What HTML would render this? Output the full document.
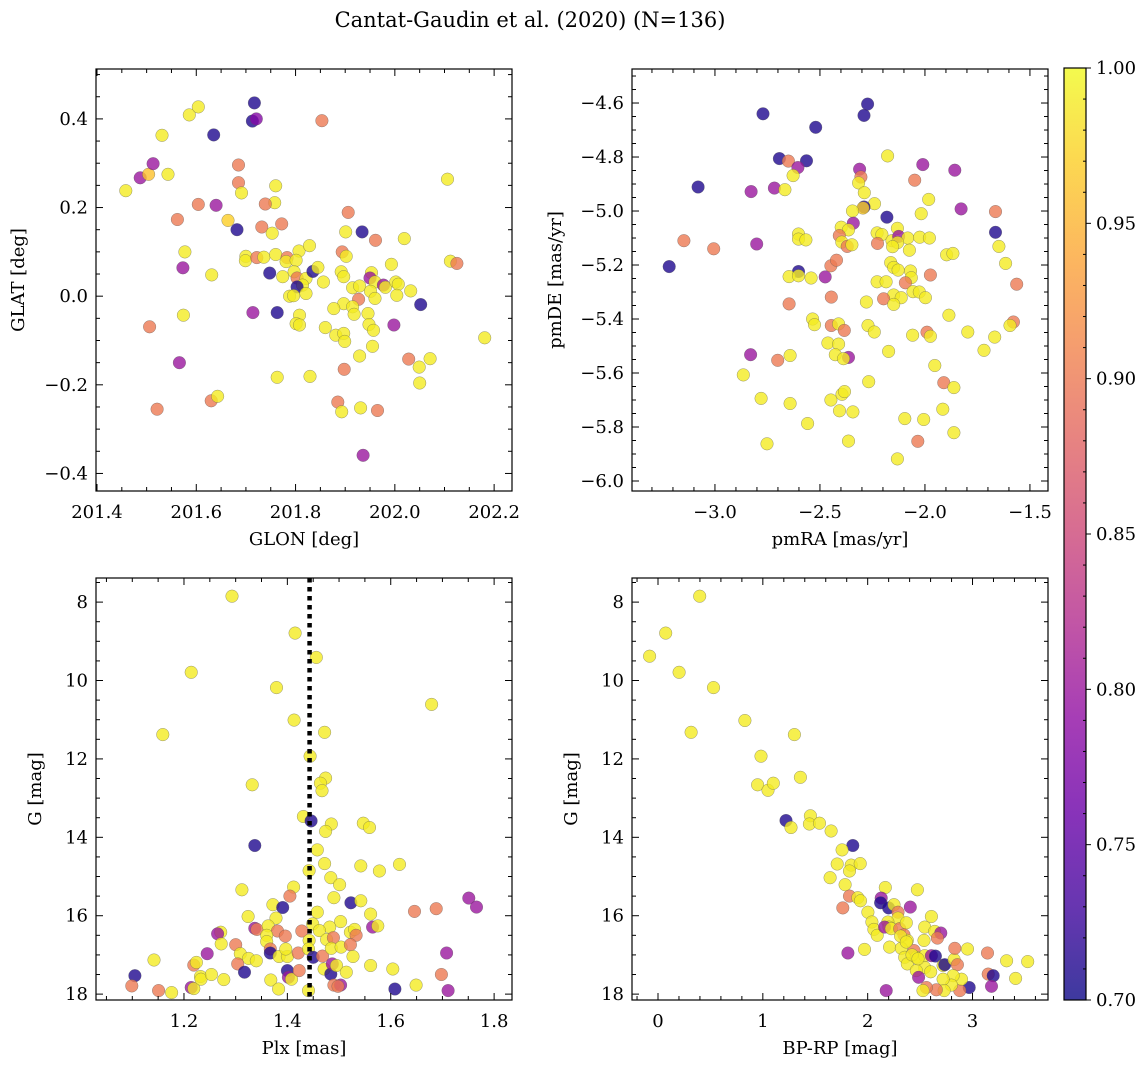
<!DOCTYPE html>
<html><head><meta charset="utf-8">
<style>
html,body{margin:0;padding:0;background:#fff;}
svg{display:block;font-family:"DejaVu Serif","Liberation Serif",serif;}
</style></head>
<body>
<svg id="fig" width="1148" height="1068" viewBox="0 0 1148 1068" xmlns="http://www.w3.org/2000/svg">
<rect width="1148" height="1068" fill="#fff"/>
<text x="530" y="27" font-size="21" text-anchor="middle">Cantat-Gaudin et al. (2020) (N=136)</text>
</svg>
<script>
// Panel 1: GLON / GLAT
const p1Glon=[201.458,201.487,201.504,201.513,201.543,201.531,201.586,201.604,201.635,201.717,201.713,201.721,201.853,201.685,201.685,201.691,201.760,201.758,201.739,201.604,201.640,201.562,201.664,201.682,201.732,201.772,201.753,201.577,201.573,201.631,201.700,201.699,201.722,201.736,201.760,201.783,201.781,201.807,201.828,201.801,201.748,201.774,201.797,201.803,201.821,201.814,201.835,201.845,201.856,201.803,201.788,201.796,201.821,201.901,201.934,201.906,201.961,201.894,201.902,202.019,201.993,201.892,201.897,201.953,201.950,201.960,201.977,201.981,202.002,202.007,201.915,201.929,201.951,202.004,202.032,201.960,201.927,201.897,201.877,201.915,201.918,201.946,202.052,202.112,202.125,202.106,202.181,201.998,201.948,201.957,201.808,201.801,201.808,201.860,201.881,201.897,201.899,201.955,201.929,201.714,201.763,201.574,201.506,201.566,202.028,202.071,202.049,202.050,201.898,201.763,201.829,201.630,201.643,201.521,201.885,201.893,201.931,201.965,201.936];
const p1Glat=[0.238,0.267,0.275,0.299,0.275,0.363,0.409,0.427,0.364,0.436,0.395,0.400,0.396,0.296,0.256,0.233,0.249,0.211,0.208,0.207,0.205,0.173,0.171,0.150,0.156,0.163,0.142,0.100,0.064,0.048,0.090,0.080,0.087,0.088,0.094,0.087,0.078,0.102,0.114,0.081,0.052,0.044,0.055,0.041,0.040,0.025,0.056,0.065,0.032,0.021,0.000,0.001,0.006,0.145,0.145,0.189,0.126,0.100,0.090,0.130,0.072,0.055,0.044,0.053,0.041,0.032,0.025,0.020,0.032,0.027,0.019,0.023,0.011,0.002,0.012,-0.005,-0.007,-0.017,-0.028,-0.024,-0.041,-0.039,-0.019,0.079,0.074,0.264,-0.094,-0.065,-0.064,-0.077,-0.043,-0.062,-0.065,-0.071,-0.088,-0.084,-0.102,-0.113,-0.135,-0.037,-0.037,-0.043,-0.069,-0.150,-0.142,-0.141,-0.160,-0.196,-0.165,-0.183,-0.181,-0.236,-0.226,-0.255,-0.239,-0.261,-0.252,-0.258,-0.359];
const p1Prob=[0.99,0.80,0.96,0.80,0.99,0.99,0.99,0.99,0.71,0.71,0.71,0.78,0.90,0.90,0.90,0.99,0.99,0.99,0.90,0.90,0.80,0.90,0.97,0.71,0.90,0.90,0.99,0.99,0.80,0.99,0.99,0.99,0.90,0.99,0.99,0.90,0.99,0.99,0.99,0.99,0.71,0.99,0.99,0.90,0.99,0.99,0.71,0.99,0.99,0.71,0.99,0.99,0.99,0.99,0.71,0.90,0.90,0.90,0.99,0.99,0.99,0.99,0.99,0.99,0.80,0.99,0.80,0.99,0.99,0.99,0.99,0.99,0.99,0.99,0.99,0.99,0.90,0.99,0.99,0.99,0.99,0.99,0.71,0.99,0.90,0.99,0.99,0.80,0.99,0.99,0.99,0.99,0.99,0.99,0.99,0.99,0.99,0.99,0.99,0.80,0.71,0.99,0.90,0.80,0.90,0.99,0.99,0.99,0.90,0.99,0.99,0.90,0.99,0.90,0.90,0.99,0.99,0.90,0.80];
// Panel 2: pmRA / pmDE
const p2Pmra=[-3.218,-3.080,-3.148,-3.006,-2.771,-2.520,-2.273,-2.290,-2.693,-2.564,-2.650,-2.605,-2.628,-2.828,-2.717,-2.667,-2.801,-2.602,-2.602,-2.567,-2.602,-2.647,-2.602,-2.542,-2.475,-2.647,-2.448,-2.421,-2.446,-2.311,-2.305,-2.316,-2.289,-2.240,-2.290,-2.295,-2.345,-2.341,-2.399,-2.364,-2.408,-2.396,-2.370,-2.348,-2.178,-2.010,-1.858,-2.049,-1.982,-2.018,-1.828,-2.181,-2.131,-2.228,-2.205,-2.226,-2.157,-2.125,-2.082,-2.130,-2.154,-2.074,-2.025,-1.979,-1.897,-1.867,-1.664,-1.664,-1.648,-1.616,-1.563,-2.163,-2.149,-2.128,-2.069,-2.065,-1.974,-2.093,-2.228,-2.185,-2.057,-2.027,-1.998,-2.149,-2.113,-2.197,-2.149,-2.279,-1.886,-2.535,-2.526,-2.446,-2.411,-2.384,-2.271,-2.241,-2.059,-1.990,-1.974,-1.796,-1.579,-1.595,-1.668,-1.719,-2.462,-2.411,-2.427,-2.364,-2.388,-2.642,-2.830,-2.701,-2.173,-1.953,-2.865,-2.268,-1.910,-1.862,-2.780,-2.642,-2.448,-2.395,-2.383,-2.407,-2.343,-1.915,-2.559,-2.096,-2.006,-1.862,-2.034,-2.752,-2.364,-2.131];
const p2Pmde=[-5.206,-4.911,-5.110,-5.140,-4.640,-4.690,-4.604,-4.646,-4.806,-4.814,-4.815,-4.839,-4.869,-4.928,-4.915,-4.921,-5.122,-5.085,-5.104,-5.107,-5.224,-5.243,-5.240,-5.248,-5.244,-5.344,-5.203,-5.182,-5.319,-4.845,-4.874,-4.896,-4.932,-4.973,-4.985,-4.989,-5.000,-5.045,-5.060,-5.070,-5.091,-5.115,-5.131,-5.125,-4.796,-4.828,-4.849,-4.886,-4.957,-5.010,-4.992,-5.023,-5.064,-5.081,-5.087,-5.120,-5.110,-5.094,-5.100,-5.117,-5.132,-5.145,-5.097,-5.100,-5.162,-5.157,-5.002,-5.079,-5.131,-5.194,-5.271,-5.191,-5.209,-5.219,-5.222,-5.247,-5.237,-5.266,-5.262,-5.262,-5.299,-5.300,-5.321,-5.311,-5.321,-5.325,-5.346,-5.337,-5.386,-5.400,-5.421,-5.424,-5.418,-5.442,-5.424,-5.448,-5.460,-5.449,-5.464,-5.448,-5.411,-5.424,-5.467,-5.516,-5.489,-5.493,-5.532,-5.542,-5.547,-5.535,-5.532,-5.553,-5.520,-5.572,-5.607,-5.632,-5.636,-5.654,-5.694,-5.713,-5.700,-5.679,-5.669,-5.740,-5.744,-5.734,-5.787,-5.769,-5.772,-5.821,-5.853,-5.862,-5.852,-5.918];
const p2Prob=[0.71,0.71,0.90,0.90,0.71,0.71,0.71,0.71,0.71,0.71,0.90,0.80,0.99,0.80,0.80,0.99,0.80,0.99,0.99,0.99,0.71,0.99,0.99,0.99,0.80,0.90,0.90,0.90,0.90,0.80,0.90,0.99,0.99,0.99,0.71,0.97,0.99,0.80,0.99,0.99,0.90,0.99,0.90,0.99,0.99,0.80,0.80,0.90,0.99,0.99,0.80,0.71,0.99,0.99,0.99,0.90,0.99,0.80,0.99,0.99,0.99,0.99,0.99,0.99,0.99,0.99,0.90,0.71,0.99,0.99,0.90,0.99,0.99,0.99,0.99,0.99,0.90,0.90,0.99,0.99,0.99,0.99,0.99,0.99,0.99,0.90,0.99,0.99,0.99,0.99,0.99,0.90,0.99,0.90,0.99,0.99,0.99,0.90,0.99,0.99,0.90,0.99,0.99,0.99,0.99,0.99,0.99,0.80,0.99,0.99,0.80,0.90,0.99,0.99,0.99,0.99,0.90,0.99,0.99,0.99,0.99,0.99,0.99,0.99,0.99,0.99,0.99,0.99,0.99,0.99,0.90,0.99,0.99,0.99];
// Panel 3: Plx / G
const p3Plx=[1.293,1.415,1.456,1.214,1.379,1.679,1.413,1.472,1.159,1.444,1.474,1.464,1.467,1.332,1.431,1.446,1.485,1.474,1.547,1.559,1.337,1.458,1.472,1.442,1.542,1.578,1.617,1.484,1.501,1.312,1.412,1.405,1.490,1.523,1.542,1.372,1.391,1.458,1.561,1.646,1.688,1.751,1.766,1.324,1.378,1.449,1.503,1.482,1.565,1.575,1.271,1.265,1.337,1.341,1.363,1.381,1.396,1.360,1.360,1.428,1.462,1.476,1.489,1.522,1.530,1.533,1.442,1.272,1.300,1.309,1.325,1.340,1.367,1.367,1.384,1.400,1.397,1.421,1.441,1.450,1.468,1.485,1.504,1.522,1.527,1.245,1.219,1.224,1.142,1.105,1.099,1.151,1.176,1.214,1.219,1.232,1.233,1.253,1.277,1.304,1.317,1.368,1.383,1.400,1.402,1.408,1.423,1.441,1.471,1.484,1.487,1.495,1.514,1.490,1.503,1.498,1.561,1.604,1.608,1.649,1.698,1.708,1.711];
const p3G=[7.85,8.79,9.41,9.79,10.18,10.61,11.01,11.32,11.38,11.93,12.49,12.62,12.81,12.66,13.47,13.58,13.66,13.85,13.64,13.75,14.21,14.32,14.67,14.85,14.73,14.86,14.69,15.03,15.21,15.34,15.27,15.50,15.54,15.67,15.62,15.72,15.79,15.91,15.96,15.89,15.82,15.55,15.78,16.02,16.06,16.21,16.15,16.29,16.29,16.26,16.42,16.46,16.32,16.35,16.26,16.39,16.52,16.50,16.66,16.39,16.38,16.61,16.56,16.42,16.35,16.50,16.63,16.72,16.74,16.97,17.09,17.15,16.85,16.95,17.04,17.04,16.85,16.95,16.85,17.06,17.03,16.83,16.80,16.74,17.04,16.97,17.26,17.19,17.13,17.53,17.79,17.91,17.96,17.83,17.86,17.55,17.62,17.50,17.63,17.23,17.44,17.64,17.87,17.40,17.57,17.62,17.40,17.91,17.36,17.49,17.23,17.27,17.44,17.77,17.77,17.80,17.27,17.36,17.87,17.77,17.50,16.95,17.91];
const p3Prob=[0.99,0.99,0.99,0.99,0.99,0.99,0.99,0.99,0.99,0.99,0.99,0.99,0.99,0.99,0.99,0.71,0.99,0.99,0.99,0.99,0.71,0.99,0.99,0.99,0.99,0.99,0.99,0.99,0.99,0.99,0.99,0.90,0.99,0.71,0.99,0.99,0.71,0.99,0.99,0.90,0.90,0.80,0.80,0.99,0.99,0.99,0.99,0.99,0.80,0.99,0.99,0.80,0.80,0.90,0.99,0.90,0.90,0.99,0.99,0.90,0.99,0.99,0.90,0.99,0.99,0.90,0.99,0.99,0.90,0.99,0.99,0.99,0.90,0.71,0.99,0.99,0.99,0.90,0.99,0.71,0.90,0.99,0.99,0.90,0.99,0.80,0.90,0.99,0.99,0.71,0.90,0.90,0.99,0.80,0.99,0.99,0.99,0.99,0.99,0.90,0.71,0.99,0.99,0.71,0.80,0.99,0.90,0.99,0.99,0.71,0.80,0.99,0.99,0.90,0.80,0.90,0.99,0.99,0.71,0.99,0.90,0.80,0.80];
// Panel 4: BP-RP / G
const p4Bprp=[0.398,0.073,-0.080,0.201,0.529,0.829,0.316,1.301,0.982,0.950,1.049,1.100,1.358,1.221,1.269,1.454,1.444,1.540,1.651,1.858,1.756,1.709,1.843,1.929,1.827,1.642,1.785,2.168,2.474,1.827,1.763,1.906,1.932,2.129,2.123,2.200,2.251,2.407,2.002,2.289,2.289,2.040,2.059,2.091,2.193,2.203,2.161,2.225,2.305,2.368,2.346,2.608,2.544,2.639,2.697,2.665,2.537,2.378,2.314,1.970,1.811,2.209,2.321,2.442,2.353,2.378,2.464,2.544,2.608,2.646,2.544,2.464,2.486,2.601,2.719,2.735,2.824,2.856,2.831,2.952,3.143,3.325,3.526,3.150,3.197,3.411,3.181,2.968,2.879,2.895,2.815,2.799,2.719,2.729,2.655,2.560,2.528,2.177,2.423,2.368,2.480];
const p4G=[7.85,8.79,9.38,9.79,10.18,11.02,11.32,11.38,11.93,12.66,12.80,12.62,12.47,13.57,13.75,13.45,13.66,13.64,13.84,14.21,14.32,14.68,14.71,14.67,14.86,15.03,15.21,15.28,15.34,15.50,15.80,15.54,15.62,15.55,15.67,15.80,15.72,15.78,15.91,15.91,16.06,16.16,16.35,16.50,16.16,16.29,16.29,16.33,16.33,16.18,16.49,16.02,16.29,16.40,16.44,16.57,16.63,16.63,16.52,16.86,16.95,16.80,16.83,16.89,17.06,17.23,17.06,17.02,17.02,17.03,17.32,17.40,17.57,17.43,17.27,17.25,17.12,17.25,16.83,16.85,16.95,17.15,17.17,17.49,17.53,17.60,17.80,17.83,17.91,17.62,17.53,17.77,17.62,17.91,17.89,17.83,17.91,17.91,17.00,16.67,17.10];
const p4Prob=[0.99,0.99,0.99,0.99,0.99,0.99,0.99,0.99,0.99,0.99,0.99,0.99,0.99,0.71,0.99,0.99,0.99,0.99,0.99,0.71,0.99,0.99,0.99,0.99,0.99,0.99,0.99,0.99,0.99,0.90,0.90,0.99,0.99,0.80,0.71,0.71,0.99,0.80,0.99,0.90,0.99,0.99,0.99,0.99,0.99,0.99,0.80,0.99,0.90,0.99,0.90,0.99,0.99,0.99,0.80,0.90,0.99,0.99,0.99,0.99,0.80,0.99,0.99,0.90,0.99,0.99,0.99,0.99,0.80,0.71,0.99,0.99,0.80,0.99,0.99,0.71,0.99,0.90,0.90,0.99,0.90,0.99,0.99,0.90,0.71,0.99,0.80,0.71,0.90,0.99,0.99,0.99,0.99,0.99,0.90,0.90,0.99,0.80,0.99,0.99,0.99];
const plxMean=[1.443];
const cbTicks=[0.70,0.75,0.80,0.85,0.90,0.95,1.00];

const NS="http://www.w3.org/2000/svg";
const svg=document.getElementById('fig');
function mk(tag,attrs,parent){const e=document.createElementNS(NS,tag);for(const k in attrs)e.setAttribute(k,attrs[k]);(parent||svg).appendChild(e);return e;}
const plasma=['#0d0887','#41049d','#6a00a8','#8f0da4','#b12a90','#cc4778','#e16462','#f2844b','#fca636','#fcce25','#f0f921'];
function hex(h){return [parseInt(h.substr(1,2),16),parseInt(h.substr(3,2),16),parseInt(h.substr(5,2),16)];}
function cmap(v){let t=(v-0.7)/0.3;t=Math.max(0,Math.min(1,t));const s=t*10,i=Math.min(9,Math.floor(s)),f=s-i;const a=hex(plasma[i]),b=hex(plasma[i+1]);return 'rgb('+a.map((c,k)=>Math.round(c+(b[k]-c)*f)).join(',')+')';}
function fmt(v,d){const s=Math.abs(v).toFixed(d);return (v<-1e-9?'\u2212':'')+s;}
const FS=18;

function panel(o){
  const g=mk('g',{});
  
  
  const X=v=>o.L+(v-o.x0)/(o.x1-o.x0)*(o.R-o.L);
  const Y=v=>o.inv? o.T+(v-o.y0)/(o.y1-o.y0)*(o.B-o.T) : o.B-(v-o.y0)/(o.y1-o.y0)*(o.B-o.T);
  const pts=mk('g',{},g);
  
  
  for(let i=0;i<o.xs.length;i++){
    const c=mk('circle',{cx:X(o.xs[i]).toFixed(1),cy:Y(o.ys[i]).toFixed(1),r:6.3,fill:cmap(o.ps[i]),'fill-opacity':0.8,stroke:'#555','stroke-width':0.5,'stroke-opacity':0.6},pts);
    
    
  }
  if(o.vline){for(const v of o.vline){const l=mk('line',{x1:X(v),x2:X(v),y1:o.T,y2:o.B,stroke:'#000','stroke-width':4.5,'stroke-dasharray':'4.5,4.5'},g);
    
    }}
  const ax=mk('g',{stroke:'#000','stroke-width':1},g);
  
  
  const eps=1e-9;
  for(let v=Math.ceil(o.x0/o.xmin-eps)*o.xmin;v<=o.x1+eps;v+=o.xmin){
    const maj=Math.abs(v/o.xmaj-Math.round(v/o.xmaj))<1e-6, len=maj?7:4, x=X(v);
    mk('line',{x1:x,x2:x,y1:o.B,y2:o.B-len},ax);mk('line',{x1:x,x2:x,y1:o.T,y2:o.T+len},ax);
    if(maj){const t=mk('text',{x:x,y:o.B+27,'font-size':FS,'text-anchor':'middle',stroke:'none',fill:'#000'},g);t.textContent=fmt(v,o.xd);
      }
  }
  for(let v=Math.ceil(o.y0/o.ymin-eps)*o.ymin;v<=o.y1+eps;v+=o.ymin){
    const maj=Math.abs(v/o.ymaj-Math.round(v/o.ymaj))<1e-6, len=maj?7:4, y=Y(v);
    mk('line',{x1:o.L,x2:o.L+len,y1:y,y2:y},ax);mk('line',{x1:o.R,x2:o.R-len,y1:y,y2:y},ax);
    if(maj){const t=mk('text',{x:o.L-8,y:y+6,'font-size':FS,'text-anchor':'end',stroke:'none',fill:'#000'},g);t.textContent=fmt(v,o.yd);
      }
  }
  const fr=mk('rect',{x:o.L,y:o.T,width:o.R-o.L,height:o.B-o.T,fill:'none',stroke:'#000','stroke-width':1.2},g);
  
  const xl=mk('text',{x:(o.L+o.R)/2,y:o.B+54,'font-size':FS,'text-anchor':'middle'},g);xl.textContent=o.xlab;
  
  const yx=o.L-o.ylo, yy=(o.T+o.B)/2;
  const yl=mk('text',{x:yx,y:yy,'font-size':FS,'text-anchor':'middle',transform:'rotate(-90 '+yx+' '+yy+')'},g);yl.textContent=o.ylab;
  
}
panel({name:'panel-glon-glat',L:96,R:512,T:69,B:491,x0:201.398,x1:202.236,y0:-0.4396,y1:0.5126,xmaj:0.2,xmin:0.05,ymaj:0.2,ymin:0.05,xd:1,yd:1,xs:p1Glon,ys:p1Glat,ps:p1Prob,xlab:'GLON [deg]',ylab:'GLAT [deg]',ylo:72});
panel({name:'panel-pm',L:632,R:1048,T:69,B:491,x0:-3.395,x1:-1.414,y0:-6.037,y1:-4.474,xmaj:0.5,xmin:0.1,ymaj:0.2,ymin:0.05,xd:1,yd:1,xs:p2Pmra,ys:p2Pmde,ps:p2Prob,xlab:'pmRA [mas/yr]',ylab:'pmDE [mas/yr]',ylo:71});
panel({name:'panel-plx-g',L:96,R:512,T:578,B:1000,x0:1.0298,x1:1.8346,y0:7.385,y1:18.15,inv:true,xmaj:0.2,xmin:0.05,ymaj:2,ymin:0.5,xd:1,yd:0,xs:p3Plx,ys:p3G,ps:p3Prob,xlab:'Plx [mas]',ylab:'G [mag]',ylo:55,vline:plxMean});
panel({name:'panel-cmd',L:632,R:1048,T:578,B:1000,x0:-0.248,x1:3.72,y0:7.385,y1:18.15,inv:true,xmaj:1,xmin:0.2,ymaj:2,ymin:0.5,xd:0,yd:0,xs:p4Bprp,ys:p4G,ps:p4Prob,xlab:'BP-RP [mag]',ylab:'G [mag]',ylo:55});

// colorbar
const cb=mk('g',{});


const defs=mk('defs',{},svg);
const lg=mk('linearGradient',{id:'cbg',x1:0,y1:1,x2:0,y2:0},defs);
for(let i=0;i<=10;i++)mk('stop',{offset:(i/10),'stop-color':plasma[i]},lg);
const cT=68,cB=1000,cL=1064,cR=1086;
mk('rect',{x:cL,y:cT,width:cR-cL,height:cB-cT,fill:'url(#cbg)','fill-opacity':0.8},cb);
const CY=v=>cB-(v-0.7)/0.3*(cB-cT);
for(let k=70;k<=100;k++){const v=k/100,y=CY(v),maj=(k%5===0);
  mk('line',{x1:maj?cR:cR-3,x2:maj?cR+5:cR,y1:y,y2:y,stroke:'#000','stroke-width':1},cb);}
for(const v of cbTicks){const t=mk('text',{x:cR+10,y:CY(v)+6,'font-size':FS},cb);t.textContent=v.toFixed(2);
  }
mk('rect',{x:cL,y:cT,width:cR-cL,height:cB-cT,fill:'none',stroke:'#000','stroke-width':1.2},cb);
</script>
</body></html>
